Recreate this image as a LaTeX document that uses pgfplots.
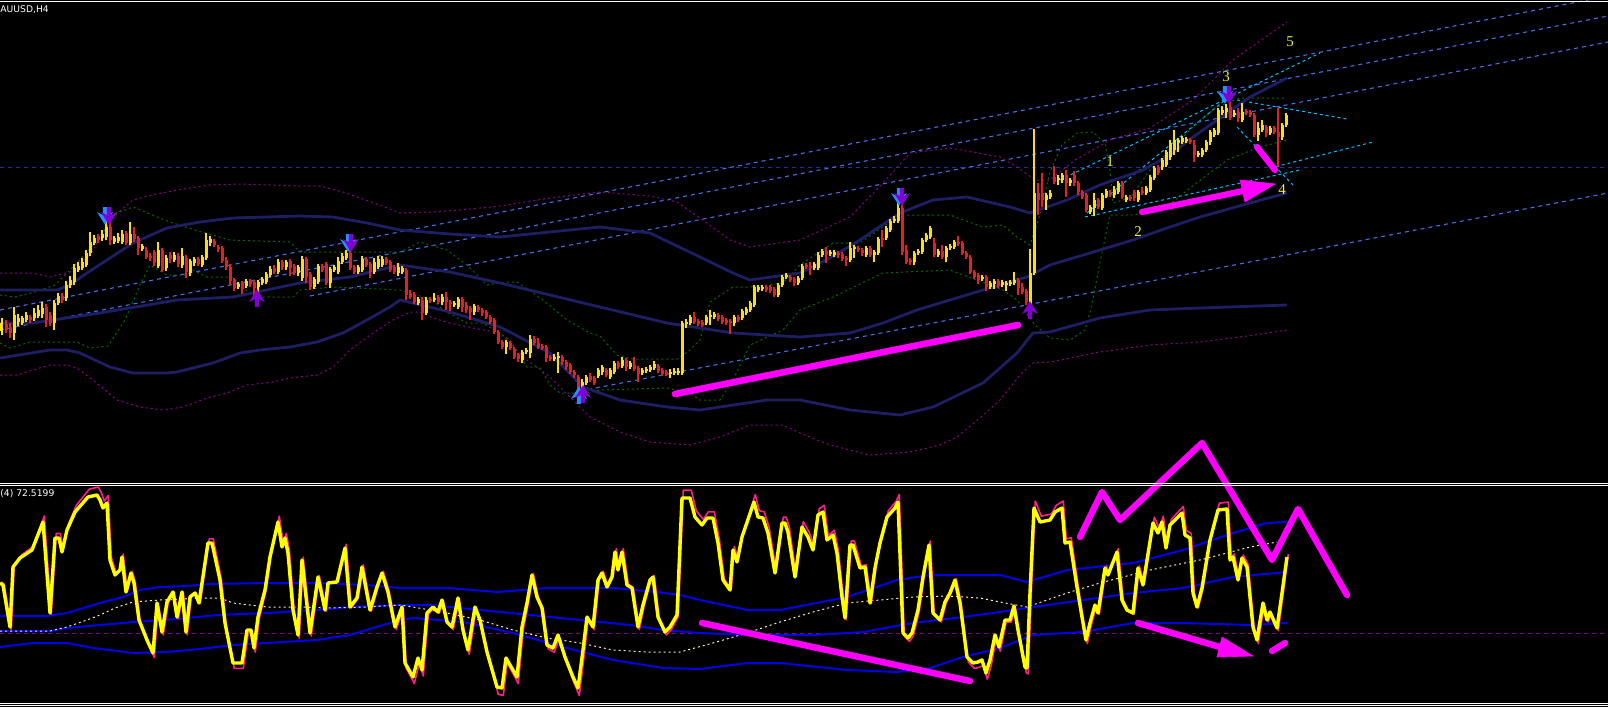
\documentclass[border=0pt]{standalone}
\usepackage{pgfplots}
\pgfplotsset{compat=1.18}
\usepackage{pgfplotstable}
\usepackage{fontspec}
\newfontfamily\lblfont{DejaVu Sans}
\newfontfamily\numfont{Liberation Serif}
\definecolor{candY}{RGB}{250,222,20}
\definecolor{candR}{RGB}{226,32,40}
\definecolor{navyb}{RGB}{30,30,100}
\definecolor{purp}{RGB}{140,0,140}
\definecolor{grn}{RGB}{0,110,0}
\definecolor{tline}{RGB}{70,110,230}
\definecolor{cyanl}{RGB}{0,190,255}
\definecolor{hnavy}{RGB}{45,45,150}
\definecolor{mag}{RGB}{255,0,255}
\definecolor{oscy}{RGB}{255,255,0}
\definecolor{oscp}{RGB}{255,30,140}
\definecolor{bandb}{RGB}{0,0,235}
\definecolor{cream}{RGB}{255,235,190}
\definecolor{arrP}{RGB}{130,0,210}
\definecolor{arrB}{RGB}{40,140,255}
\definecolor{wnum}{RGB}{240,240,60}

\pgfdeclareplotmark{dnarr}{%
  \pgfpathmoveto{\pgfqpoint{-1.1pt}{4.4pt}}%
  \pgfpathlineto{\pgfqpoint{1.1pt}{4.4pt}}%
  \pgfpathlineto{\pgfqpoint{1.1pt}{0.5pt}}%
  \pgfpathlineto{\pgfqpoint{4pt}{2pt}}%
  \pgfpathlineto{\pgfqpoint{0pt}{-4.4pt}}%
  \pgfpathlineto{\pgfqpoint{-4pt}{2pt}}%
  \pgfpathlineto{\pgfqpoint{-1.1pt}{0.5pt}}%
  \pgfpathclose\pgfusepathqfill}
\pgfdeclareplotmark{uparr}{%
  \pgfpathmoveto{\pgfqpoint{-1.1pt}{-4.4pt}}%
  \pgfpathlineto{\pgfqpoint{1.1pt}{-4.4pt}}%
  \pgfpathlineto{\pgfqpoint{1.1pt}{-0.5pt}}%
  \pgfpathlineto{\pgfqpoint{4pt}{-2pt}}%
  \pgfpathlineto{\pgfqpoint{0pt}{4.4pt}}%
  \pgfpathlineto{\pgfqpoint{-4pt}{-2pt}}%
  \pgfpathlineto{\pgfqpoint{-1.1pt}{-0.5pt}}%
  \pgfpathclose\pgfusepathqfill}

% candles: x, body top, body bottom, high, low (screen pixel rows), c=1 up (yellow), 0 down (red)
\pgfplotstableread{
x t b h l c
2 323 331 318 335 1
6 324 330 320 333 0
10 327 333 323 338 0
14 315 333 307 340 1
18 318 322 314 326 1
22 318 323 316 325 1
26 315 320 312 322 1
30 317 320 315 323 0
34 313 318 308 321 1
38 310 316 305 318 1
42 308 314 302 318 1
46 307 320 304 327 0
50 315 323 312 326 0
54 303 323 300 330 1
58 296 303 293 305 1
62 296 300 293 303 0
66 285 298 281 301 1
70 280 285 276 288 1
74 268 282 264 285 1
78 266 270 262 272 1
82 262 268 258 270 1
86 253 265 250 267 1
90 242 253 232 256 1
94 238 243 235 245 1
98 236 240 234 243 0
102 234 238 230 241 1
106 227 237 222 240 1
110 227 240 222 245 0
114 238 242 236 244 1
118 237 241 233 243 1
122 234 242 230 244 1
126 233 243 231 245 0
130 234 243 222 245 1
134 234 239 227 242 0
138 238 248 236 255 0
142 246 249 244 251 1
146 250 257 247 259 0
150 256 258 253 261 0
154 252 263 250 266 0
158 250 266 242 268 1
162 250 270 248 272 0
166 258 268 255 271 1
170 255 259 252 263 0
174 255 260 252 262 1
178 256 264 253 267 0
182 256 265 248 268 1
186 258 272 255 278 0
190 261 273 259 276 1
194 259 263 257 266 1
198 259 264 257 266 0
202 257 265 255 267 1
206 240 258 233 260 1
210 239 243 236 246 1
214 241 245 239 247 0
218 247 249 245 252 0
222 248 261 246 263 0
226 260 267 257 270 0
230 267 281 264 285 0
234 280 288 278 291 0
238 284 287 282 289 1
242 283 289 281 294 0
246 281 286 279 288 1
250 281 284 279 287 0
254 282 288 280 296 0
258 282 287 280 298 1
262 279 283 277 285 1
266 274 282 272 284 1
270 269 275 266 277 1
274 268 272 265 274 0
278 262 272 259 274 1
282 262 267 260 270 0
286 262 267 260 270 1
290 261 268 259 276 0
294 266 273 264 275 0
298 267 273 265 276 1
302 259 278 256 281 1
306 259 277 257 283 0
310 274 287 272 290 0
314 279 287 277 289 1
318 266 282 264 284 1
322 266 270 264 272 0
326 264 283 262 285 0
330 269 283 267 288 1
334 267 270 265 272 1
338 261 272 257 274 1
342 256 262 253 264 1
346 253 258 250 260 1
350 253 268 250 270 0
354 267 272 265 274 0
358 267 272 265 274 1
362 259 270 256 272 1
366 259 265 257 267 0
370 264 272 262 278 0
374 262 272 258 274 1
378 259 267 256 269 1
382 259 265 256 267 1
386 259 263 257 265 0
390 262 270 260 272 0
394 267 272 265 274 0
398 267 273 263 276 1
402 268 272 266 274 1
406 270 295 268 300 0
410 293 297 290 299 0
414 295 302 292 304 0
418 299 303 297 305 1
422 300 313 297 320 0
426 300 313 297 315 1
430 299 301 297 303 0
434 298 300 293 302 1
438 297 302 295 304 0
442 297 302 294 305 1
446 297 302 292 310 0
450 302 304 300 311 0
454 303 305 301 307 1
458 299 307 297 309 1
462 299 307 297 312 0
466 305 310 302 313 0
470 308 312 306 320 0
474 306 312 304 315 1
478 307 310 305 312 0
482 310 313 308 316 0
486 312 317 310 319 0
490 317 322 315 324 0
494 320 332 318 334 0
498 332 342 330 344 0
502 342 347 340 349 0
506 342 347 340 354 1
510 343 348 341 350 0
514 349 357 347 359 0
518 355 359 353 362 0
522 352 360 350 363 1
526 350 352 348 354 1
530 339 353 335 358 1
534 339 343 336 345 0
538 343 347 338 349 0
542 346 348 344 350 0
546 347 358 345 362 0
550 357 359 355 361 0
554 357 359 354 361 1
558 356 358 352 373 1
562 357 362 355 365 0
566 362 367 360 370 0
570 365 372 363 374 0
574 372 375 370 378 0
578 377 388 375 392 0
582 382 388 379 391 1
586 377 383 375 385 1
590 376 380 373 382 0
594 378 383 376 385 0
598 370 376 368 378 1
602 367 372 365 375 1
606 370 375 368 377 0
610 370 377 368 379 1
614 363 372 361 374 1
618 363 367 361 369 0
622 360 366 357 368 1
626 360 367 358 371 0
630 363 367 361 369 1
634 365 369 357 371 0
638 368 374 366 382 0
642 370 373 368 375 1
646 369 371 367 373 1
650 367 370 365 372 1
654 364 368 361 370 1
658 366 371 364 373 0
662 370 374 368 376 0
666 372 374 370 376 0
670 372 374 369 378 1
674 371 373 368 375 1
678 371 373 368 375 1
682 323 373 321 375 1
686 322 324 319 328 1
690 317 323 315 325 1
694 317 322 312 324 0
698 321 324 319 326 0
702 322 325 320 327 0
706 317 323 315 325 1
710 315 317 310 325 1
714 314 317 312 319 1
718 315 319 313 321 0
722 317 322 315 324 0
726 320 323 318 325 0
730 321 323 319 334 0
734 317 323 315 326 1
738 317 320 315 322 0
742 311 318 309 320 1
746 309 313 307 315 1
750 303 310 301 312 1
754 287 305 285 307 1
758 287 290 285 292 1
762 287 289 285 291 1
766 287 290 285 292 0
770 287 291 285 293 0
774 289 295 287 297 0
778 285 295 283 297 1
782 277 285 275 287 1
786 275 277 273 279 1
790 277 280 275 282 0
794 279 283 277 286 0
798 278 283 276 285 1
802 266 278 264 280 1
806 265 267 263 269 0
810 266 268 262 275 0
814 264 268 262 270 1
818 255 268 252 270 1
822 251 255 249 257 1
826 251 255 247 263 0
830 252 254 250 256 1
834 252 255 250 257 1
838 253 255 251 258 0
842 254 259 252 261 0
846 258 260 256 266 0
850 248 260 242 262 1
854 247 249 245 258 1
858 248 250 246 252 0
862 250 253 248 256 0
866 248 255 246 257 1
870 248 255 246 257 0
874 252 255 250 262 1
878 239 253 237 255 1
882 238 240 230 247 0
886 228 238 226 240 1
890 221 230 219 232 1
894 219 221 216 223 1
898 208 221 203 223 1
902 208 252 205 255 0
906 250 262 245 264 0
910 260 262 258 265 0
914 253 262 251 265 1
918 251 253 249 255 1
922 240 252 238 254 1
926 235 240 233 242 1
930 228 237 226 239 1
934 243 255 238 257 0
938 251 255 249 257 1
942 251 257 245 259 0
946 248 257 246 262 1
950 246 248 244 250 1
954 242 247 240 249 1
958 242 244 236 246 0
962 243 253 241 255 0
966 253 257 251 259 0
970 257 272 255 274 0
974 272 277 270 279 0
978 275 280 273 284 0
982 277 279 275 281 1
986 277 287 275 291 0
990 283 287 281 289 1
994 281 284 279 289 1
998 281 286 279 288 0
1002 282 285 280 287 1
1006 283 285 281 291 1
1010 282 284 280 286 1
1014 280 283 272 285 1
1018 280 288 278 295 0
1022 287 292 283 294 0
1026 291 302 289 305 0
1030 273 307 249 309 1
1034 193 273 129 275 1
1038 193 200 183 215 0
1042 193 200 173 207 0
1046 195 200 193 210 1
1050 193 197 190 199 1
1054 177 182 166 184 0
1058 178 180 175 185 1
1062 175 180 173 183 1
1066 175 183 170 197 0
1070 180 183 178 186 1
1074 175 183 171 186 0
1078 183 192 181 195 0
1082 192 197 190 199 0
1086 195 210 193 212 0
1090 207 212 205 214 1
1094 200 208 193 216 1
1098 200 207 198 209 0
1102 195 208 193 210 1
1106 191 196 189 198 1
1110 192 195 190 197 0
1114 190 195 186 198 1
1118 183 192 181 194 1
1122 183 197 181 199 0
1126 197 200 195 202 1
1130 197 199 195 201 0
1134 192 198 190 201 0
1138 192 200 190 202 1
1142 191 193 187 195 0
1146 188 193 186 195 1
1150 177 190 175 192 1
1154 168 178 166 180 1
1158 167 173 165 175 0
1162 160 167 158 170 1
1166 152 165 150 167 1
1170 143 157 140 160 1
1174 140 150 130 155 1
1178 140 143 138 152 1
1182 138 142 136 144 1
1186 139 141 137 143 1
1190 140 142 138 144 0
1194 145 155 140 162 0
1198 153 155 151 157 1
1202 150 155 148 157 1
1206 142 150 140 152 1
1210 132 142 130 145 1
1214 130 135 128 137 1
1218 110 133 108 135 1
1222 110 113 106 115 1
1226 108 112 104 118 1
1230 107 118 102 120 0
1234 113 115 110 117 1
1238 112 118 108 122 0
1242 112 120 103 122 1
1246 111 113 109 115 0
1250 112 115 110 117 0
1254 115 135 113 137 0
1258 128 135 122 141 1
1262 125 130 120 132 1
1266 127 133 125 137 0
1270 128 133 126 135 1
1274 128 132 126 134 0
1278 132 137 108 167 0
1282 125 137 123 140 1
1286 115 125 113 127 1
}\candles

\pgfplotstableread{
x y
0 583
3 585
10 627
13 567
20 558
32 550
43 522
50 613
55 538
59 538
62 552
67 530
75 512
88 497
97 495
100 500
103 508
107 503
110 560
115 575
120 570
122 557
126 592
131 573
134 583
139 620
147 640
153 653
157 603
162 632
167 602
173 592
177 617
182 592
186 632
190 597
195 593
199 603
208 543
212 543
220 580
225 623
233 663
242 663
247 630
251 630
254 648
258 617
265 590
270 557
278 522
282 547
285 538
288 553
293 610
298 635
302 560
310 633
318 577
325 610
328 583
337 582
345 548
350 607
357 598
362 567
370 610
377 587
382 573
388 592
395 627
402 607
405 663
413 677
418 658
422 670
427 613
433 607
438 612
442 600
447 622
452 627
458 598
463 630
468 650
475 607
480 620
487 652
497 687
502 688
506 658
517 677
522 627
527 603
532 575
537 597
542 608
547 645
553 648
558 635
565 657
573 677
578 688
583 650
587 617
590 622
593 627
598 580
602 573
607 587
612 577
615 552
618 570
622 552
627 585
632 588
638 627
643 605
650 580
653 577
658 617
665 632
670 627
677 615
682 498
690 498
695 517
702 525
707 518
713 518
718 543
723 580
730 590
733 550
737 562
742 537
754 502
758 517
763 518
768 533
775 573
782 523
785 523
788 532
795 577
802 527
808 537
813 550
818 515
823 512
827 540
833 535
837 553
842 597
845 618
850 545
853 545
860 568
865 567
870 603
875 568
880 543
887 517
895 508
898 502
903 633
908 638
912 633
918 610
923 577
929 545
933 613
940 620
945 602
950 593
955 580
960 603
967 657
973 663
978 662
982 660
986 673
990 660
995 635
999 647
1005 620
1010 620
1014 606
1018 630
1025 667
1027 668
1030 593
1034 508
1040 522
1050 520
1055 512
1062 508
1065 543
1070 542
1077 587
1082 617
1086 640
1090 623
1095 605
1098 613
1105 568
1108 575
1117 552
1122 600
1127 610
1133 613
1138 568
1143 585
1153 523
1158 533
1162 522
1166 548
1170 525
1182 513
1185 535
1190 538
1193 593
1197 607
1202 588
1210 540
1218 510
1227 509
1230 560
1233 557
1238 580
1242 558
1247 567
1253 627
1257 640
1263 603
1267 620
1270 612
1277 628
1282 593
1287 557
}\osc

\begin{document}
\begin{tikzpicture}
\begin{axis}[
  width=804pt, height=353.5pt, scale only axis,
  xmin=0, xmax=1608, ymin=0, ymax=707, y dir=reverse,
  axis background/.style={fill=black},
  axis line style={draw=none},
  xtick=\empty, ytick=\empty,
  clip=true,
]
% ---------------- top panel ----------------
\addplot[hnavy, line width=0.5pt, dash pattern=on 2pt off 2pt] coordinates {(0,167) (1608,167)};
\addplot[tline, line width=0.55pt, dash pattern=on 2pt off 2pt] coordinates {(0,310) (1608,-4)};
\addplot[tline, line width=0.55pt, dash pattern=on 2pt off 2pt] coordinates {(0,330) (1608,16)};
\addplot[tline, line width=0.55pt, dash pattern=on 2pt off 2pt] coordinates {(310,296) (1608,42)};
\addplot[tline, line width=0.55pt, dash pattern=on 2pt off 2pt] coordinates {(580,391) (1608,193)};
\addplot[cyanl, line width=0.5pt, dash pattern=on 1.5pt off 1.5pt] coordinates {(1060,180) (1320,53)};
\addplot[cyanl, line width=0.5pt, dash pattern=on 1.5pt off 1.5pt] coordinates {(1087,213) (1225,100)};
\addplot[cyanl, line width=0.5pt, dash pattern=on 1.5pt off 1.5pt] coordinates {(1085,217) (1300,170)};
\addplot[cyanl, line width=0.5pt, dash pattern=on 1.5pt off 1.5pt] coordinates {(1237,100) (1347,119)};
\addplot[cyanl, line width=0.5pt, dash pattern=on 1.5pt off 1.5pt] coordinates {(1237,127) (1293,185)};
\addplot[cyanl, line width=0.5pt, dash pattern=on 1.5pt off 1.5pt] coordinates {(1270,168) (1373,142)};
\addplot[purp, line width=0.5pt, dash pattern=on 1pt off 1.5pt] coordinates {
(0,273) (33,273) (50,277) (70,272) (90,255) (100,238) (115,215) (133,200) (152,195) (177,190) (210,185) (240,184) (300,186) (320,186) (343,192) (363,199) (385,207) (400,213) (433,212) (460,210) (500,206) (550,198) (600,192) (650,196) (677,202) (700,218) (730,240) (750,247) (800,240) (850,217) (883,183) (910,153) (950,148) (1000,157) (1017,167) (1035,180) (1050,180) (1075,160) (1110,140) (1150,128) (1193,100) (1233,60) (1287,22)};
\addplot[purp, line width=0.5pt, dash pattern=on 1pt off 1.5pt] coordinates {
(0,375) (17,375) (33,370) (50,365) (67,365) (77,368) (93,380) (117,400) (140,407) (163,410) (183,407) (207,398) (227,393) (247,385) (273,382) (290,378) (317,375) (333,367) (350,350) (373,333) (393,320) (410,312) (420,312) (433,318) (450,323) (473,328) (500,333) (527,360) (550,377) (590,417) (620,432) (650,442) (690,445) (720,437) (750,425) (783,425) (800,433) (830,445) (870,455) (910,452) (940,445) (957,437) (980,418) (1000,400) (1020,375) (1033,363) (1050,362) (1100,352) (1150,345) (1200,342) (1255,335) (1287,330)};
\addplot[grn, line width=0.5pt, dash pattern=on 1pt off 1.5pt] coordinates {
(0,295) (15,297) (35,292) (55,285) (75,265) (95,243) (117,213) (133,207) (150,214) (170,222) (195,230) (230,240) (290,242) (300,252) (330,252) (400,252) (420,242) (447,250) (467,265) (487,285) (507,282) (517,282) (543,300) (567,320) (590,333) (600,336) (617,355) (633,359) (677,359) (690,350) (700,340) (710,302) (733,287) (750,287) (783,283) (800,265) (833,243) (860,243) (900,215) (950,215) (983,227) (1003,225) (1017,237) (1030,245) (1040,215) (1050,172) (1062,145) (1077,133) (1093,132) (1105,143) (1110,170) (1113,203) (1130,198) (1150,170) (1170,150) (1193,127) (1215,108) (1240,98) (1287,98)};
\addplot[grn, line width=0.5pt, dash pattern=on 1pt off 1.5pt] coordinates {
(0,343) (10,348) (30,342) (77,342) (90,348) (108,346) (125,320) (140,285) (150,265) (167,275) (187,275) (193,270) (207,277) (233,277) (253,297) (293,297) (300,290) (333,287) (400,290) (433,300) (443,310) (467,323) (483,323) (510,340) (527,367) (540,367) (550,385) (560,393) (587,393) (600,390) (667,388) (690,393) (700,400) (720,400) (733,380) (750,345) (783,330) (800,310) (833,297) (883,273) (950,270) (977,280) (1003,290) (1017,300) (1035,325) (1050,338) (1070,340) (1085,330) (1092,305) (1100,262) (1110,215) (1130,215) (1160,212) (1190,188) (1227,160) (1260,147) (1287,140)};
\addplot[navyb, line width=1.4pt] coordinates {
(0,290) (57,290) (70,285) (87,273) (110,258) (133,243) (167,228) (200,222) (233,218) (300,216) (333,217) (367,223) (400,230) (450,234) (500,237) (550,232) (600,227) (650,233) (700,257) (733,273) (750,280) (800,273) (830,258) (860,240) (900,213) (933,200) (967,197) (1010,207) (1030,213) (1067,200) (1100,185) (1143,170) (1170,155) (1193,137) (1220,118) (1250,97) (1287,78)};
\addplot[navyb, line width=1.4pt] coordinates {
(0,323) (33,323) (100,313) (177,300) (233,297) (300,283) (350,277) (400,265) (450,272) (500,283) (550,295) (600,307) (667,323) (733,333) (800,337) (850,333) (883,323) (917,310) (950,300) (983,290) (1027,277) (1050,265) (1100,250) (1133,240) (1167,228) (1200,217) (1250,203) (1287,193)};
\addplot[navyb, line width=1.4pt] coordinates {
(0,358) (50,350) (67,350) (80,353) (110,367) (133,373) (167,373) (177,372) (213,363) (240,353) (260,350) (290,347) (317,342) (343,333) (367,320) (390,307) (400,300) (450,312) (500,327) (550,353) (583,387) (620,400) (667,407) (700,410) (767,400) (800,400) (850,410) (900,415) (933,407) (983,383) (1017,353) (1033,333) (1050,332) (1100,318) (1150,310) (1200,308) (1287,305)};
% candle wicks and bodies
\addplot[draw=none, mark=none, restrict expr to domain={\thisrow{c}}{0.5:1.5},
  error bars/.cd, y dir=plus, y explicit, error mark=none,
  error bar style={draw=candY, line width=0.55pt}]
  table[x=x, y=h, y error plus expr=\thisrow{l}-\thisrow{h}] {\candles};
\addplot[draw=none, mark=none, restrict expr to domain={\thisrow{c}}{-0.5:0.5},
  error bars/.cd, y dir=plus, y explicit, error mark=none,
  error bar style={draw=candR, line width=0.55pt}]
  table[x=x, y=h, y error plus expr=\thisrow{l}-\thisrow{h}] {\candles};
\addplot[draw=none, mark=none, restrict expr to domain={\thisrow{c}}{0.5:1.5},
  error bars/.cd, y dir=plus, y explicit, error mark=none,
  error bar style={draw=candY, line width=1.5pt}]
  table[x=x, y=t, y error plus expr=\thisrow{b}-\thisrow{t}] {\candles};
\addplot[draw=none, mark=none, restrict expr to domain={\thisrow{c}}{-0.5:0.5},
  error bars/.cd, y dir=plus, y explicit, error mark=none,
  error bar style={draw=candR, line width=1.5pt}]
  table[x=x, y=t, y error plus expr=\thisrow{b}-\thisrow{t}] {\candles};
% fractal arrows
\addplot[only marks, mark=dnarr, mark options={fill=arrB, draw=none}] coordinates {(105,216) (348,243) (899,197) (1225,95)};
\addplot[only marks, mark=dnarr, mark options={fill=arrP, draw=none}] coordinates {(109,216) (351,243) (902,197) (1229,95)};
\addplot[only marks, mark=uparr, mark options={fill=arrB, draw=none}] coordinates {(579,395)};
\addplot[only marks, mark=uparr, mark options={fill=arrP, draw=none}] coordinates {(257,298) (583,394) (1030,310)};
% magenta drawings (top)
\addplot[mag, line width=3.3pt, line cap=round] coordinates {(675,394) (1018,325)};
\addplot[mag, line width=3.1pt, line cap=round] coordinates {(1142,212) (1243,191)};
\addplot[mag, fill=mag, line width=0.3pt] coordinates {(1275,184) (1240,180) (1245,202)} -- cycle;
\addplot[mag, line width=3.1pt, line cap=round] coordinates {(1257,147) (1275,170)};
% ---------------- bottom panel ----------------
\addplot[purp, line width=0.5pt, dash pattern=on 2pt off 2pt] coordinates {(0,633) (1608,633)};
\addplot[bandb, line width=1pt] coordinates {
(0,616) (47,616) (67,613) (100,603) (123,597) (140,590) (160,587) (187,586) (210,584) (267,583) (317,583) (367,585) (400,588) (447,588) (497,592) (547,588) (613,588) (657,592) (680,595) (700,600) (747,610) (780,610) (847,597) (897,580) (930,575) (980,575) (1000,575) (1027,582) (1067,570) (1133,563) (1183,550) (1233,533) (1267,523) (1287,522)};
\addplot[bandb, line width=1pt] coordinates {
(0,631) (50,631) (67,628) (100,625) (133,622) (177,619) (217,615) (267,613) (317,610) (350,607) (400,605) (430,605) (480,610) (530,615) (580,620) (630,625) (663,630) (700,633) (747,635) (813,635) (863,632) (913,623) (963,617) (1000,612) (1033,607) (1083,600) (1133,593) (1183,588) (1233,577) (1287,572)};
\addplot[bandb, line width=1pt] coordinates {
(0,647) (33,643) (67,643) (93,648) (133,653) (167,652) (200,649) (233,645) (283,642) (317,640) (350,635) (373,628) (400,620) (413,618) (463,622) (513,633) (563,647) (613,660) (663,668) (700,669) (747,663) (780,663) (847,670) (897,672) (930,668) (963,657) (1000,648) (1033,635) (1083,632) (1133,623) (1183,623) (1250,625) (1287,623)};
\addplot[cream, line width=0.5pt, dash pattern=on 1pt off 1.5pt] coordinates {
(0,631) (50,631) (67,627) (87,620) (100,615) (115,608) (133,602) (160,600) (207,598) (220,598) (233,603) (267,607) (300,607) (327,608) (367,607) (400,605) (413,607) (447,613) (480,620) (513,630) (547,638) (580,643) (613,650) (647,652) (680,652) (713,643) (747,633) (780,622) (813,612) (847,603) (880,600) (913,597) (947,596) (980,598) (1000,602) (1027,607) (1067,593) (1100,583) (1150,570) (1200,560) (1250,547) (1277,542)};
% oscillator
\addplot[oscp, line width=0.8pt, line join=round] table[x expr=\thisrow{x}+1.3, y expr=\thisrow{y}+0.08*(\thisrow{y}-595)] {\osc};
\addplot[oscy, line width=1.7pt, line join=round] table[x=x, y=y] {\osc};
% magenta drawings (bottom)
\addplot[mag, line width=3.2pt, line cap=round, line join=round] coordinates {(1080,537) (1102,492) (1120,520) (1202,443) (1272,560) (1298,509) (1347,595)};
\addplot[mag, line width=3.2pt, line cap=round] coordinates {(702,623) (970,681)};
\addplot[mag, line width=3.2pt, line cap=round] coordinates {(1138,623) (1220,647)};
\addplot[mag, fill=mag, line width=0.3pt] coordinates {(1253,656) (1222,637) (1217,657)} -- cycle;
\addplot[mag, line width=3.2pt, line cap=round] coordinates {(1272,651) (1285,643)};
% frame lines
\addplot[white, line width=0.5pt] coordinates {(0,1) (1608,1)};
\addplot[white, line width=0.5pt] coordinates {(0,483) (1608,483)};
\addplot[white, line width=0.5pt] coordinates {(0,485.5) (1608,485.5)};
\addplot[white, line width=0.5pt] coordinates {(0,703) (1608,703)};
\addplot[white, line width=0.5pt] coordinates {(0,705.5) (1608,705.5)};
% texts
\node[anchor=west, text=white, inner sep=0pt, font={\lblfont\fontsize{4.6pt}{5pt}\selectfont}] at (axis cs:0,10) {AUUSD,H4};
\node[anchor=west, text=white, inner sep=0pt, font={\lblfont\fontsize{4.6pt}{5pt}\selectfont}] at (axis cs:0,494) {(4) 72.5199};
\node[text=wnum, inner sep=0pt, font={\numfont\fontsize{7.5pt}{8pt}\selectfont}] at (axis cs:1110,162) {1};
\node[text=wnum, inner sep=0pt, font={\numfont\fontsize{7.5pt}{8pt}\selectfont}] at (axis cs:1138,232) {2};
\node[text=wnum, inner sep=0pt, font={\numfont\fontsize{7.5pt}{8pt}\selectfont}] at (axis cs:1226,77) {3};
\node[text=wnum, inner sep=0pt, font={\numfont\fontsize{7.5pt}{8pt}\selectfont}] at (axis cs:1282,190) {4};
\node[text=wnum, inner sep=0pt, font={\numfont\fontsize{7.5pt}{8pt}\selectfont}] at (axis cs:1290,42) {5};
\end{axis}
\end{tikzpicture}
\end{document}
